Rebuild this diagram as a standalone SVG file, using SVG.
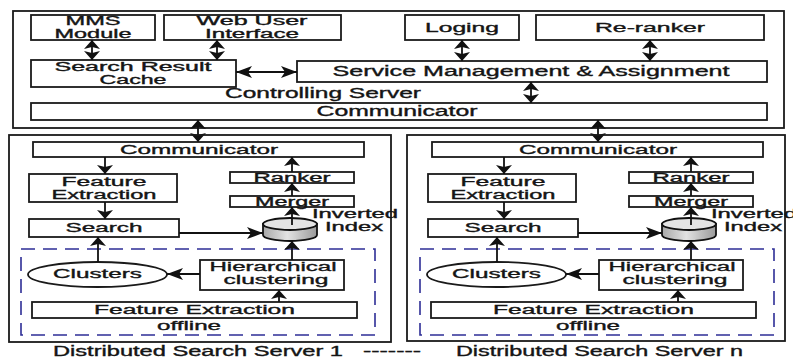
<svg xmlns="http://www.w3.org/2000/svg" width="793" height="358" viewBox="0 0 793 358">
<style>
.box{fill:#fff;stroke:#1a1a1a;stroke-width:1.8}
.frame{fill:none;stroke:#1a1a1a;stroke-width:1.8}
.dash{fill:none;stroke:#2e2e96;stroke-width:1.6;stroke-dasharray:14 8}
.t{font-family:"Liberation Sans",Arial,sans-serif;fill:#151515;stroke:#151515;stroke-width:0.35;text-anchor:middle}
.c{stroke:#111;stroke-width:1.8;fill:none}
.v{marker-end:url(#ah)}
.vv{marker-start:url(#ah);marker-end:url(#ah)}
.h{marker-end:url(#ahh)}
.hh{marker-start:url(#ahh);marker-end:url(#ahh)}
</style>
<defs>
<marker id="ah" markerUnits="userSpaceOnUse" viewBox="0 0 10 16" markerWidth="10" markerHeight="16" refX="9" refY="8" orient="auto-start-reverse"><path d="M9,8 L0,0 L2,8 L0,16 Z" fill="#111"/></marker>
<marker id="ahh" markerUnits="userSpaceOnUse" viewBox="0 0 16 12" markerWidth="16" markerHeight="12" refX="16" refY="6" orient="auto-start-reverse"><path d="M16,6 L0,0 L4,6 L0,12 Z" fill="#111"/></marker>
<linearGradient id="cyl" x1="0" y1="0" x2="1" y2="0"><stop offset="0" stop-color="#a8a8a8"/><stop offset="0.45" stop-color="#e2e2e2"/><stop offset="1" stop-color="#9a9a9a"/></linearGradient>
</defs>

<g id="controlling-server">
<rect class="frame" x="13" y="11" width="771" height="117"/>
<text class="t" x="323" y="97.5" font-size="14" textLength="196" lengthAdjust="spacingAndGlyphs">Controlling Server</text>
</g>
<g id="mms"><rect class="box" x="31" y="15" width="124" height="25"/>
<text class="t" x="93" y="25" font-size="12" textLength="55" lengthAdjust="spacingAndGlyphs">MMS</text>
<text class="t" x="93" y="38" font-size="12" textLength="77" lengthAdjust="spacingAndGlyphs">Module</text></g>
<g id="web"><rect class="box" x="164" y="15" width="177" height="25"/>
<text class="t" x="252" y="25" font-size="12" textLength="111" lengthAdjust="spacingAndGlyphs">Web User</text>
<text class="t" x="252" y="38" font-size="12" textLength="94" lengthAdjust="spacingAndGlyphs">Interface</text></g>
<g id="loging"><rect class="box" x="405" y="15" width="114" height="25"/>
<text class="t" x="462" y="32" font-size="13" textLength="74" lengthAdjust="spacingAndGlyphs">Loging</text></g>
<g id="reranker"><rect class="box" x="536" y="15" width="228" height="25"/>
<text class="t" x="650" y="32" font-size="13" textLength="110" lengthAdjust="spacingAndGlyphs">Re-ranker</text></g>
<g id="cache"><rect class="box" x="31" y="60" width="205" height="27"/>
<text class="t" x="133" y="71" font-size="12" textLength="157" lengthAdjust="spacingAndGlyphs">Search Result</text>
<text class="t" x="133" y="84" font-size="12" textLength="67" lengthAdjust="spacingAndGlyphs">Cache</text></g>
<g id="service"><rect class="box" x="297" y="61" width="470" height="21"/>
<text class="t" x="531" y="76" font-size="14" textLength="397" lengthAdjust="spacingAndGlyphs">Service Management &amp; Assignment</text></g>
<g id="communicator"><rect class="box" x="31" y="103" width="736" height="17"/>
<text class="t" x="397" y="116" font-size="14" textLength="161" lengthAdjust="spacingAndGlyphs">Communicator</text></g>

<g id="top-connectors">
<line class="c vv" x1="92" y1="40" x2="92" y2="60"/>
<line class="c vv" x1="217" y1="40" x2="217" y2="60"/>
<line class="c vv" x1="462" y1="40" x2="462" y2="61"/>
<line class="c vv" x1="650" y1="40" x2="650" y2="61"/>
<line class="c hh" x1="236" y1="72" x2="297" y2="72"/>
<line class="c vv" x1="531" y1="82" x2="531" y2="103"/>
<line class="c vv" x1="198" y1="120" x2="198" y2="142"/>
<line class="c vv" x1="598" y1="120" x2="598" y2="142"/>
</g>

<g id="dss1-frame"><rect class="frame" x="9" y="135" width="382" height="207"/></g>
<g id="dssn-frame"><rect class="frame" x="407" y="135" width="378" height="206"/></g>

<g id="dss1">
<g id="d1-comm"><rect class="box" x="33" y="142" width="331" height="15"/>
<text class="t" x="199" y="153.5" font-size="13" textLength="158" lengthAdjust="spacingAndGlyphs">Communicator</text></g>
<g id="d1-fe"><rect class="box" x="29" y="174" width="148" height="28"/>
<text class="t" x="104" y="186" font-size="12" textLength="85" lengthAdjust="spacingAndGlyphs">Feature</text>
<text class="t" x="104" y="198.5" font-size="12" textLength="105" lengthAdjust="spacingAndGlyphs">Extraction</text></g>
<g id="d1-search"><rect class="box" x="29" y="219" width="150" height="18"/>
<text class="t" x="104" y="232" font-size="12.5" textLength="77" lengthAdjust="spacingAndGlyphs">Search</text></g>
<g id="d1-ranker"><rect class="box" x="230" y="172" width="124" height="11"/>
<text class="t" x="292" y="181.5" font-size="12" textLength="77" lengthAdjust="spacingAndGlyphs">Ranker</text></g>
<g id="d1-merger"><rect class="box" x="230" y="196" width="124" height="11"/>
<text class="t" x="292" y="205.5" font-size="12" textLength="74" lengthAdjust="spacingAndGlyphs">Merger</text></g>
<g id="d1-index">
<path d="M263,224 L263,235 A27,6 0 0 0 317,235 L317,224 Z" fill="url(#cyl)" stroke="#111" stroke-width="1.8"/>
<ellipse cx="290" cy="224" rx="27" ry="6" fill="#e4e4e4" stroke="#111" stroke-width="1.8"/>
<text class="t" x="355" y="218" font-size="12" textLength="86" lengthAdjust="spacingAndGlyphs">Inverted</text>
<text class="t" x="354" y="231" font-size="12" textLength="58" lengthAdjust="spacingAndGlyphs">Index</text></g>
<g id="d1-offline"><rect class="dash" x="21" y="249" width="354" height="86"/>
<text class="t" x="189" y="330" font-size="12.5" textLength="64" lengthAdjust="spacingAndGlyphs">offline</text></g>
<g id="d1-clusters"><ellipse cx="97.5" cy="274.5" rx="69.5" ry="12.5" class="box"/>
<text class="t" x="97.5" y="278" font-size="12.5" textLength="89" lengthAdjust="spacingAndGlyphs">Clusters</text></g>
<g id="d1-hier"><rect class="box" x="200" y="260" width="144" height="30"/>
<text class="t" x="273" y="271" font-size="12.5" textLength="127" lengthAdjust="spacingAndGlyphs">Hierarchical</text>
<text class="t" x="276" y="284" font-size="12.5" textLength="105" lengthAdjust="spacingAndGlyphs">clustering</text></g>
<g id="d1-fe-off"><rect class="box" x="32" y="302" width="325" height="16"/>
<text class="t" x="194.5" y="314" font-size="12.5" textLength="201" lengthAdjust="spacingAndGlyphs">Feature Extraction</text></g>
<g id="d1-connectors">
<line class="c v" x1="105" y1="157" x2="105" y2="174"/>
<line class="c v" x1="105" y1="202" x2="105" y2="219"/>
<line class="c h" x1="179" y1="233" x2="263" y2="233"/>
<line class="c v" x1="292" y1="225" x2="292" y2="207"/>
<line class="c v" x1="292" y1="196" x2="292" y2="183"/>
<line class="c v" x1="292" y1="172" x2="292" y2="157"/>
<line class="c v" x1="98" y1="262" x2="98" y2="237"/>
<line class="c v" x1="292" y1="260" x2="292" y2="241"/>
<line class="c h" x1="200" y1="274" x2="167" y2="274"/>
<line class="c v" x1="279" y1="302" x2="279" y2="290"/>
</g>
</g>

<g id="dssn" transform="translate(399,0)">
<g id="dn-comm"><rect class="box" x="33" y="142" width="331" height="15"/>
<text class="t" x="199" y="153.5" font-size="13" textLength="158" lengthAdjust="spacingAndGlyphs">Communicator</text></g>
<g id="dn-fe"><rect class="box" x="29" y="174" width="148" height="28"/>
<text class="t" x="104" y="186" font-size="12" textLength="85" lengthAdjust="spacingAndGlyphs">Feature</text>
<text class="t" x="104" y="198.5" font-size="12" textLength="105" lengthAdjust="spacingAndGlyphs">Extraction</text></g>
<g id="dn-search"><rect class="box" x="29" y="219" width="150" height="18"/>
<text class="t" x="104" y="232" font-size="12.5" textLength="77" lengthAdjust="spacingAndGlyphs">Search</text></g>
<g id="dn-ranker"><rect class="box" x="230" y="172" width="124" height="11"/>
<text class="t" x="292" y="181.5" font-size="12" textLength="77" lengthAdjust="spacingAndGlyphs">Ranker</text></g>
<g id="dn-merger"><rect class="box" x="230" y="196" width="124" height="11"/>
<text class="t" x="292" y="205.5" font-size="12" textLength="74" lengthAdjust="spacingAndGlyphs">Merger</text></g>
<g id="dn-index">
<path d="M263,224 L263,235 A27,6 0 0 0 317,235 L317,224 Z" fill="url(#cyl)" stroke="#111" stroke-width="1.8"/>
<ellipse cx="290" cy="224" rx="27" ry="6" fill="#e4e4e4" stroke="#111" stroke-width="1.8"/>
<text class="t" x="355" y="218" font-size="12" textLength="86" lengthAdjust="spacingAndGlyphs">Inverted</text>
<text class="t" x="354" y="231" font-size="12" textLength="58" lengthAdjust="spacingAndGlyphs">Index</text></g>
<g id="dn-offline"><rect class="dash" x="21" y="249" width="354" height="86"/>
<text class="t" x="189" y="330" font-size="12.5" textLength="64" lengthAdjust="spacingAndGlyphs">offline</text></g>
<g id="dn-clusters"><ellipse cx="97.5" cy="274.5" rx="69.5" ry="12.5" class="box"/>
<text class="t" x="97.5" y="278" font-size="12.5" textLength="89" lengthAdjust="spacingAndGlyphs">Clusters</text></g>
<g id="dn-hier"><rect class="box" x="200" y="260" width="144" height="30"/>
<text class="t" x="273" y="271" font-size="12.5" textLength="127" lengthAdjust="spacingAndGlyphs">Hierarchical</text>
<text class="t" x="276" y="284" font-size="12.5" textLength="105" lengthAdjust="spacingAndGlyphs">clustering</text></g>
<g id="dn-fe-off"><rect class="box" x="32" y="302" width="325" height="16"/>
<text class="t" x="194.5" y="314" font-size="12.5" textLength="201" lengthAdjust="spacingAndGlyphs">Feature Extraction</text></g>
<g id="dn-connectors">
<line class="c v" x1="105" y1="157" x2="105" y2="174"/>
<line class="c v" x1="105" y1="202" x2="105" y2="219"/>
<line class="c h" x1="179" y1="233" x2="263" y2="233"/>
<line class="c v" x1="292" y1="225" x2="292" y2="207"/>
<line class="c v" x1="292" y1="196" x2="292" y2="183"/>
<line class="c v" x1="292" y1="172" x2="292" y2="157"/>
<line class="c v" x1="98" y1="262" x2="98" y2="237"/>
<line class="c v" x1="292" y1="260" x2="292" y2="241"/>
<line class="c h" x1="200" y1="274" x2="167" y2="274"/>
<line class="c v" x1="279" y1="302" x2="279" y2="290"/>
</g>
</g>

<g id="captions">
<text class="t" x="198" y="356" font-size="14" textLength="290" lengthAdjust="spacingAndGlyphs">Distributed Search Server 1</text>
<text class="t" x="392" y="356" font-size="14" textLength="58" lengthAdjust="spacingAndGlyphs">-------</text>
<text class="t" x="599.5" y="356" font-size="14" textLength="287" lengthAdjust="spacingAndGlyphs">Distributed Search Server n</text>
</g>
</svg>
